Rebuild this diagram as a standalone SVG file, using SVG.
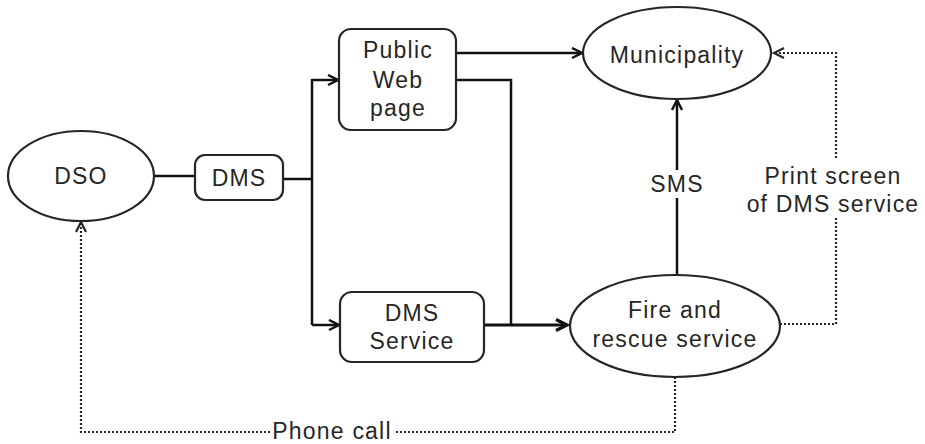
<svg xmlns="http://www.w3.org/2000/svg" width="925" height="444" viewBox="0 0 925 444">
<style>
.n{fill:#fff;stroke:#262626;stroke-width:2.2}
.t{font-family:"Liberation Sans",Arial,sans-serif;font-size:23px;fill:#262626;text-anchor:middle;letter-spacing:1.2px}
.c{fill:none;stroke:#111;stroke-width:2.5}
.d{fill:none;stroke:#262626;stroke-width:2.2;stroke-dasharray:2 2}
</style>
<defs>
<marker id="a" markerUnits="userSpaceOnUse" markerWidth="14" markerHeight="14" refX="11" refY="6" orient="auto">
<path d="M1,1 L11,6 L1,11" fill="none" stroke="#111" stroke-width="2.5"/>
</marker>
<marker id="ab" markerUnits="userSpaceOnUse" markerWidth="16" markerHeight="16" refX="12" refY="7" orient="auto">
<path d="M1,1.5 L12,7 L1,12.5" fill="none" stroke="#111" stroke-width="3.2"/>
</marker>
<marker id="ad" markerUnits="userSpaceOnUse" markerWidth="14" markerHeight="14" refX="11" refY="6" orient="auto">
<path d="M1,1 L11,6 L1,11" fill="none" stroke="#262626" stroke-width="2.2"/>
</marker>
</defs>
<rect width="925" height="444" fill="#fff"/>
<g id="connectors">
<path class="c" d="M154,176 H195"/>
<path class="c" d="M283,179 H312"/>
<path class="c" d="M312,79 V325"/>
<path class="c" d="M312,80 H338" marker-end="url(#a)"/>
<path class="c" d="M312,325 H339" marker-end="url(#a)"/>
<path class="c" d="M456,53 H582" marker-end="url(#a)"/>
<path class="c" d="M456,80 H511 V325"/>
<path class="c" d="M484,325 H567" style="stroke-width:3" marker-end="url(#ab)"/>
<path class="c" d="M677,275 V198"/>
<path class="c" d="M677,170 V100" marker-end="url(#a)"/>
<path class="d" d="M780,324 H836 V218"/>
<path class="d" d="M836,158 V53 H774" marker-end="url(#ad)"/>
<path class="d" d="M675,377 V432 H394"/>
<path class="d" d="M270,432 H81 V222" marker-end="url(#ad)"/>
<text class="t" x="677" y="192">SMS</text>
<text class="t" x="833" y="184">Print screen</text>
<text class="t" x="833" y="212">of DMS service</text>
<text class="t" x="332" y="439">Phone call</text>
</g>
<g id="dso">
<ellipse class="n" cx="81" cy="176" rx="73" ry="45"/>
<text class="t" x="81" y="184">DSO</text>
</g>
<g id="dms">
<rect class="n" x="195" y="155" width="88" height="45" rx="10"/>
<text class="t" x="239" y="186">DMS</text>
</g>
<g id="public-web-page">
<rect class="n" x="339" y="29" width="117" height="101" rx="12"/>
<text class="t" x="398" y="58">Public</text>
<text class="t" x="398" y="88">Web</text>
<text class="t" x="398" y="116">page</text>
</g>
<g id="dms-service">
<rect class="n" x="340" y="292" width="144" height="70" rx="12"/>
<text class="t" x="412" y="321">DMS</text>
<text class="t" x="412" y="349">Service</text>
</g>
<g id="municipality">
<ellipse class="n" cx="677" cy="53" rx="94" ry="46"/>
<text class="t" x="677" y="63">Municipality</text>
</g>
<g id="fire-rescue">
<ellipse class="n" cx="675" cy="326" rx="105" ry="51"/>
<text class="t" x="675" y="318">Fire and</text>
<text class="t" x="675" y="347">rescue service</text>
</g>
</svg>
